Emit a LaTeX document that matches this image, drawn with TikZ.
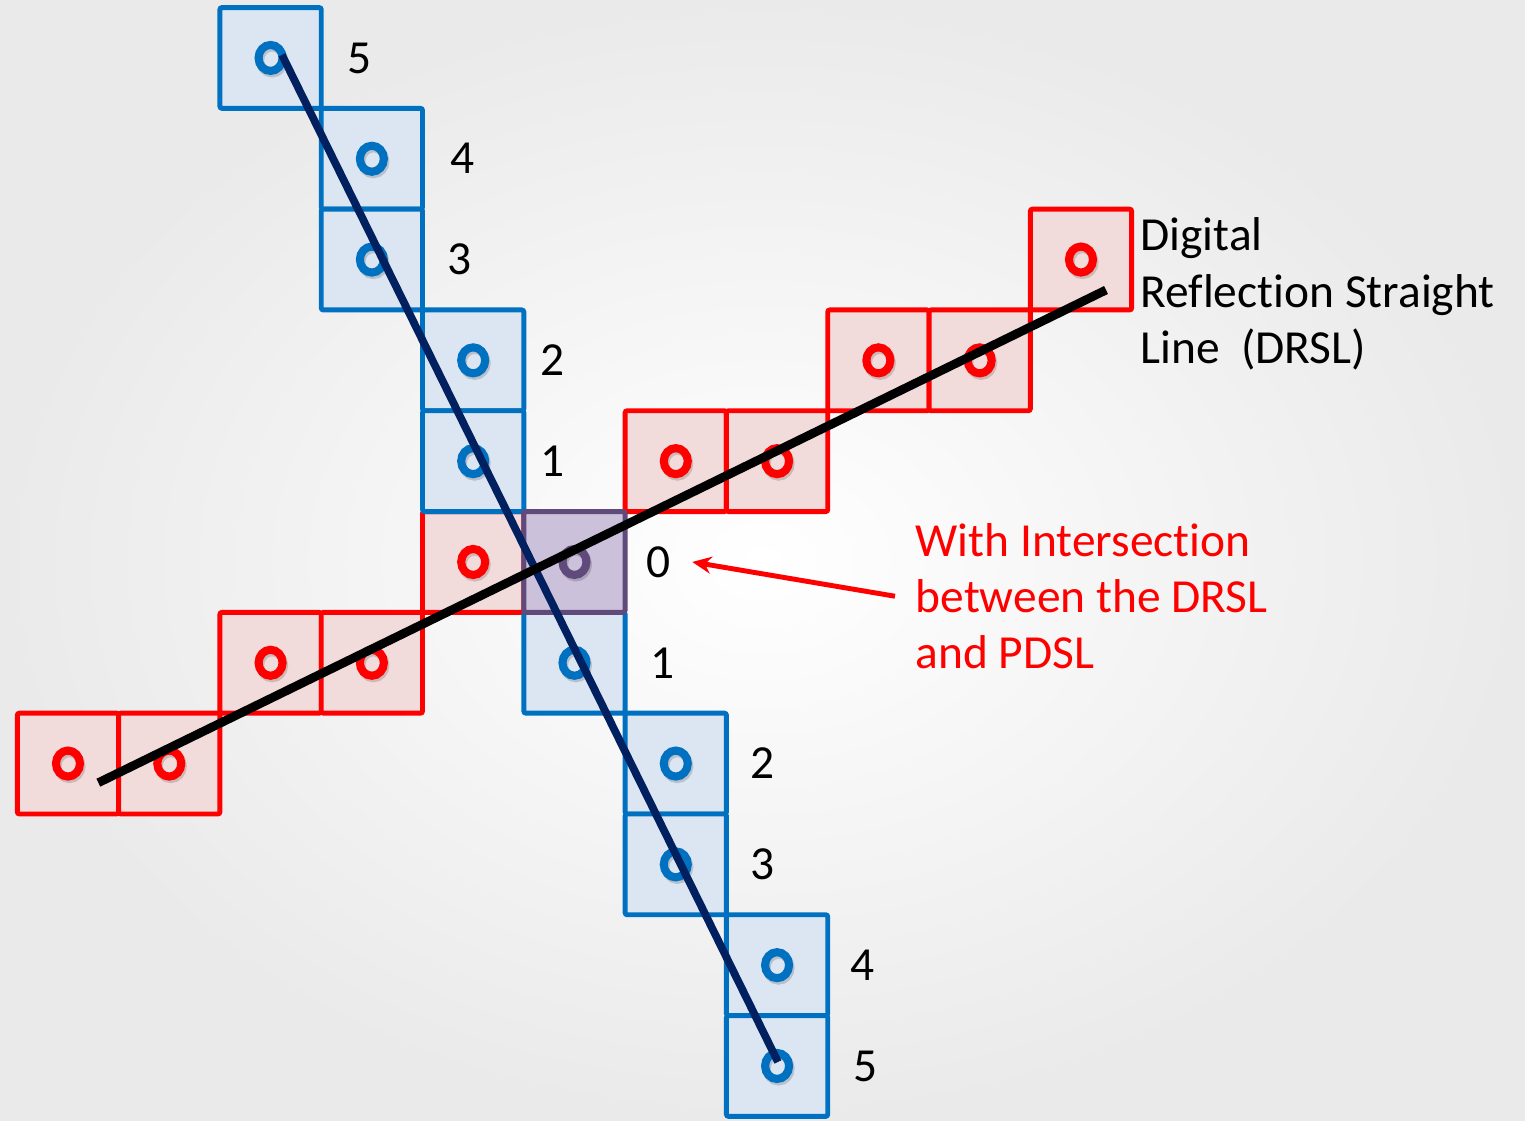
\documentclass[tikz,border=0pt]{standalone}
\usepackage{fontspec}
\setmainfont{Carlito}[Ligatures=NoCommon]
\usepackage{tikz}
\usetikzlibrary{arrows.meta,positioning}

\definecolor{pdslblue}{RGB}{0,112,192}
\definecolor{pdslfill}{RGB}{220,230,242}
\definecolor{drslred}{RGB}{255,0,0}
\definecolor{drslfill}{RGB}{242,220,219}
\definecolor{meetline}{RGB}{96,74,123}
\definecolor{meetfill}{RGB}{204,193,218}
\definecolor{pdslline}{RGB}{0,32,96}
\definecolor{bgedge}{RGB}{234,234,234}

\begin{document}
\begin{tikzpicture}[
    x=1.013cm, y=-1.008cm,
    cell/.style={draw, line width=1.4pt, rounded corners=0.6pt, minimum width=1.013cm, minimum height=1.008cm, inner sep=0pt},
    pdslcell/.style={cell, draw=pdslblue, fill=pdslfill},
    drslcell/.style={cell, draw=drslred, fill=drslfill},
    meetcell/.style={cell, draw=meetline, fill=meetfill},
    ring/.style={line width=2.3pt},
    ringshade/.style={line width=2.3pt, black, opacity=0.16},
    index/.style={font=\fontsize{13.5}{16}\selectfont, inner sep=0.21cm},
    caption/.style={font=\fontsize{13.5}{16}\selectfont, align=left, anchor=west, inner sep=0pt},
    arrow/.style={-{Stealth[length=0.19cm,width=0.17cm]}, line width=1.4pt, drslred}
]
\useasboundingbox (-0.671,-0.575) rectangle (14.383,10.546);
\shade[inner color=white, outer color=bgedge] (-0.671,-0.575) rectangle (14.383,10.546);

\foreach \i/\j [count=\k] in {0/7,1/7,2/6,3/6,4/5,6/4,7/4,8/3,9/3,10/2} {
    \node[drslcell] (drsl-\k) at (\i,\j) {};
    \draw[ringshade] ([xshift=0.015cm,yshift=-0.025cm]drsl-\k.center) ellipse [x radius=0.12cm, y radius=0.13cm];
    \draw[ring, drslred] (drsl-\k.center) ellipse [x radius=0.12cm, y radius=0.13cm];
}
\foreach \i/\j/\n/\d [count=\k] in {2/0/5/0.88,3/1/4/0.89,3/2/3/0.87,4/3/2/0.78,4/4/1/0.78,5/6/1/0.87,6/7/2/0.86,6/8/3/0.86,7/9/4/0.84,7/10/5/0.87} {
    \node[pdslcell] (pdsl-\k) at (\i,\j) {};
    \draw[ringshade] ([xshift=0.015cm,yshift=-0.025cm]pdsl-\k.center) ellipse [x radius=0.12cm, y radius=0.13cm];
    \draw[ring, pdslblue] (pdsl-\k.center) ellipse [x radius=0.12cm, y radius=0.13cm];
    \node[index] (index-\k) at (\i+\d,\j) {\n};
}
\node[meetcell] (meet) at (5,5) {};
\draw[ringshade] ([xshift=0.015cm,yshift=-0.025cm]meet.center) ellipse [x radius=0.12cm, y radius=0.13cm];
\draw[ring, meetline] (meet.center) ellipse [x radius=0.12cm, y radius=0.13cm];
\node[index] (index-0) at (5.83,5) {0};

\coordinate (pdsl-top) at (2.113,-0.03);
\coordinate (pdsl-bottom) at (7.009,9.96);
\coordinate (drsl-low) at (0.3,7.19);
\coordinate (drsl-high) at (10.247,2.302);
\draw[pdslline, line width=2.2pt] (pdsl-top) -- (pdsl-bottom);
\draw[black, line width=2.5pt] (drsl-low) -- (drsl-high);

\node[caption] (drsl-name) at (10.58,2.34) {Digital\\Reflection Straight\\Line~~(DRSL)};
\node[caption, drslred, inner sep=0.2cm] (meet-note) at (8.164,5.34) {With Intersection\\between the DRSL\\and PDSL};
\draw[arrow] (meet-note.west) -- (index-0.east);
\end{tikzpicture}
\end{document}
